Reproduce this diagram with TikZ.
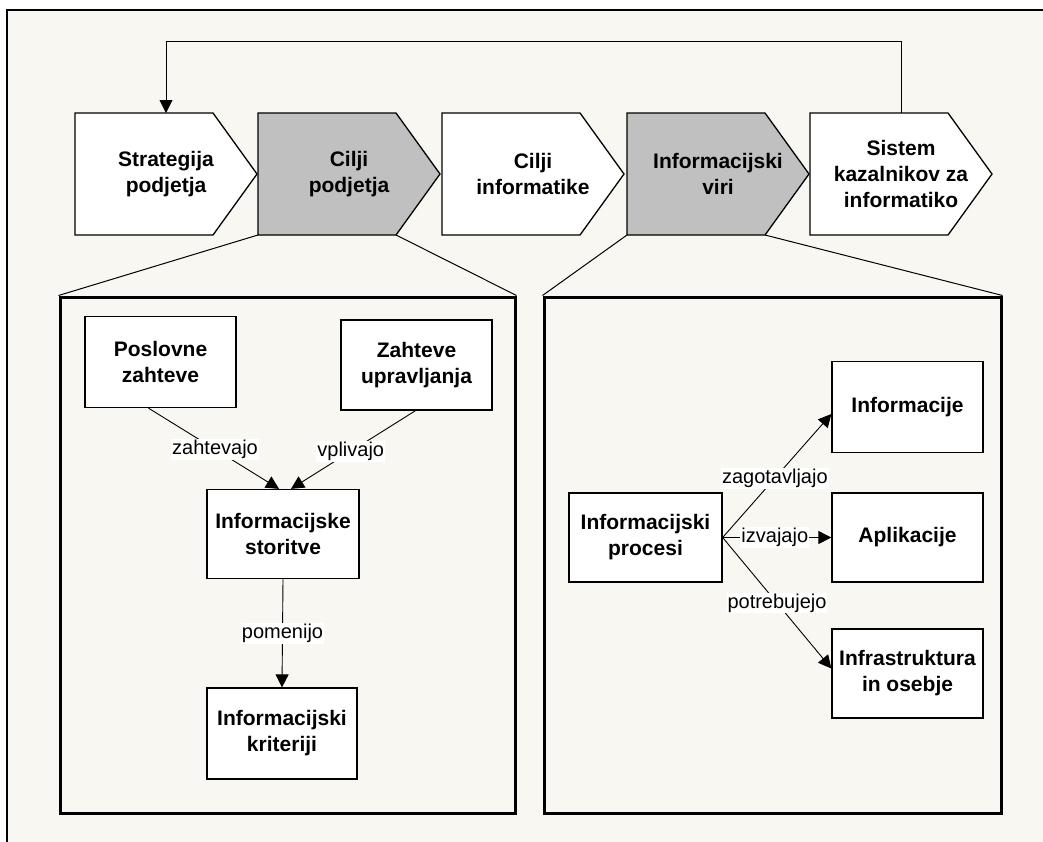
\documentclass[tikz,border=0pt]{standalone}
\usepackage{fontspec}
\setmainfont{Liberation Sans}
\usetikzlibrary{arrows.meta,calc}
\definecolor{paper}{RGB}{249,247,241}
\definecolor{chevgray}{RGB}{192,192,192}

% pentagon arrow of the process chain: name, left x, fill, text
\newcommand{\mkchev}[4]{%
  \draw[chevline, fill=#3] (#2,113) -- (#2+138,113) -- (#2+182,174)
        -- (#2+138,235) -- (#2,235) -- cycle;
  \coordinate (#1-bl) at (#2,235);
  \coordinate (#1-br) at (#2+138,235);
  \coordinate (#1-top) at (#2+91,113);
  \node[boxtxt] (#1) at (#2+91,174) {#4};
}

\begin{document}
\begin{tikzpicture}[x=1pt,y=-1pt,
  boxtxt/.style={font=\fontsize{21}{26}\selectfont\bfseries, align=center, text=black},
  itembox/.style={draw=black, line width=1.3pt, fill=white, boxtxt, inner sep=0pt},
  panel/.style={draw=black, line width=3pt, inner sep=0pt},
  link/.style={draw=black, line width=0.9pt, -{Triangle[length=13pt,width=13pt]}},
  lbl/.style={fill=white, inner sep=1pt, font=\fontsize{20}{24}\selectfont},
  chevline/.style={draw=black, line width=1.3pt},
  funnel/.style={draw=black, line width=1pt}
]
\useasboundingbox (0,0) rectangle (1043,841);
\fill[white] (0,0) rectangle (1043,841);
\draw[fill=paper, line width=2pt] (7,10) rectangle (1060,860);

% process chain
\mkchev{c1}{75}{white}{Strategija\\podjetja}
\mkchev{c2}{258}{chevgray}{Cilji\\podjetja}
\mkchev{c3}{442}{white}{Cilji\\informatike}
\mkchev{c4}{627}{chevgray}{Informacijski\\viri}
\mkchev{c5}{810}{white}{Sistem\\kazalnikov za\\informatiko}

% feedback loop
\coordinate (fbtop) at (166,41);
\draw[link] (c5-top) |- (fbtop) -- (c1-top);

% detail panels
\node[panel, minimum width=455pt, minimum height=516pt] (lp) at (287.5,555) {};
\node[panel, minimum width=457pt, minimum height=516pt] (rp) at (772.5,555) {};
\draw[funnel] (c2-bl) -- (lp.north west);
\draw[funnel] (c2-br) -- (lp.north east);
\draw[funnel] (c4-bl) -- (rp.north west);
\draw[funnel] (c4-br) -- (rp.north east);

% left panel
\node[itembox, minimum width=151pt, minimum height=91pt] (pz) at (160.5,362) {Poslovne\\zahteve};
\node[itembox, minimum width=151pt, minimum height=90pt] (zu) at (416.5,365) {Zahteve\\upravljanja};
\node[itembox, minimum width=152pt, minimum height=89pt] (is) at (283,534) {Informacijske\\storitve};
\node[itembox, minimum width=150pt, minimum height=91pt] (ik) at (282,733.5) {Informacijski\\kriteriji};

\draw[link] ([xshift=-12pt]pz.south) -- node[lbl, pos=0.51] {zahtevajo} ([xshift=-4pt]is.north);
\draw[link] ([xshift=-1pt]zu.south) -- node[lbl, pos=0.52] {vplivajo} ([xshift=8pt]is.north);
\draw[link] (is.south) -- node[lbl] {pomenijo} (ik.north);

% right panel
\node[itembox, minimum width=153pt, minimum height=89pt] (ip) at (645.5,537.5) {Informacijski\\procesi};
\node[itembox, minimum width=151pt, minimum height=91pt] (inf) at (907.5,407) {Informacije};
\node[itembox, minimum width=151pt, minimum height=89pt] (apl) at (907.5,537.5) {Aplikacije};
\node[itembox, minimum width=151pt, minimum height=89pt] (infra) at (907.5,673.5) {Infrastruktura\\in osebje};

\draw[link] (ip.east) -- node[lbl, pos=0.48] {zagotavljajo} ([yshift=-7pt]inf.west);
\draw[link] (ip.east) -- node[lbl, pos=0.48] {izvajajo} (apl.west);
\draw[link] (ip.east) -- node[lbl, pos=0.5] {potrebujejo} ([yshift=5pt]infra.west);
\end{tikzpicture}
\end{document}
